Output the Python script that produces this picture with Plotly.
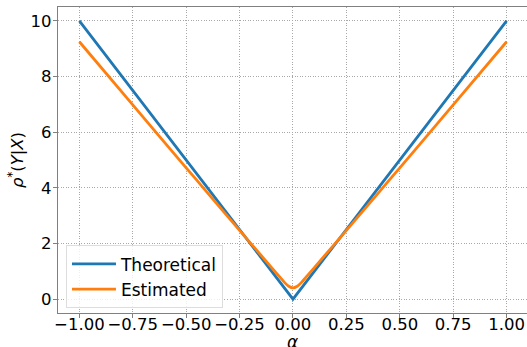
import plotly.graph_objects as go

alpha_theory = [-1.0, 0.0, 1.0]
rho_theory = [10.0, 0.0, 10.0]

alpha_est = [-1.0, -0.75, -0.5, -0.4, -0.25, -0.15, -0.1, -0.06, -0.04, -0.02, 0.0,
             0.02, 0.04, 0.06, 0.1, 0.15, 0.25, 0.4, 0.5, 0.75, 1.0]
rho_est = [9.25, 6.98, 4.72, 3.82, 2.47, 1.58, 1.13, 0.78, 0.6, 0.46, 0.4,
           0.46, 0.6, 0.78, 1.13, 1.58, 2.47, 3.82, 4.72, 6.98, 9.25]

x_tickvals = [-1.0, -0.75, -0.5, -0.25, 0.0, 0.25, 0.5, 0.75, 1.0]
x_ticktext = ["\u22121.00", "\u22120.75", "\u22120.50", "\u22120.25", "0.00", "0.25", "0.50", "0.75", "1.00"]
y_tickvals = [0, 2, 4, 6, 8, 10]

FONT = "DejaVu Sans"
fig = go.Figure()
fig.add_trace(go.Scatter(x=alpha_theory, y=rho_theory, mode="lines", name="Theoretical",
                         line=dict(color="#1f77b4", width=2.8)))
fig.add_trace(go.Scatter(x=alpha_est, y=rho_est, mode="lines", name="Estimated",
                         line=dict(color="#ff7f0e", width=2.8, shape="spline", smoothing=0.6)))

grid = dict(showgrid=True, gridcolor="#a8a8a8", griddash="1px,1.6px", gridwidth=0.8)

fig.update_layout(
    width=527, height=347,
    margin=dict(l=58, r=0, t=7, b=34),
    plot_bgcolor="white", paper_bgcolor="white",
    font=dict(family=FONT, size=16.5, color="black"),
    showlegend=True,
    legend=dict(x=0.017, y=0.015, xanchor="left", yanchor="bottom",
                bgcolor="rgba(255,255,255,0.8)", bordercolor="#dddddd", borderwidth=1,
                itemwidth=44,
                font=dict(size=17, family=FONT)),
    xaxis=dict(range=[-1.1, 1.0955], tickvals=x_tickvals, ticktext=x_ticktext,
               automargin=False, **grid,
               zeroline=False, showline=True, linecolor="#808080", linewidth=1.2, mirror=True,
               ticks="outside", ticklen=4, tickcolor="#808080", ticklabelstandoff=-8),
    yaxis=dict(range=[-0.5, 10.5], tickvals=y_tickvals, automargin=False, **grid,
               zeroline=False, showline=True, linecolor="#808080", linewidth=1.2,
               ticks="outside", ticklen=4, tickcolor="#808080", ticklabelstandoff=-2,
               title=dict(text="<i>ρ</i><sup>*</sup>(<i>Y</i>|<i>X</i>)", standoff=2, font=dict(size=16.5))),
    annotations=[dict(text="<i>α</i>", x=0, xref="x", y=0, yref="paper",
                      yanchor="middle", yshift=-29, showarrow=False, font=dict(size=17))],
)

fig.write_html("out.html", config={"displayModeBar": False},
               post_script="document.body.style.margin='0';document.body.style.padding='0';")
